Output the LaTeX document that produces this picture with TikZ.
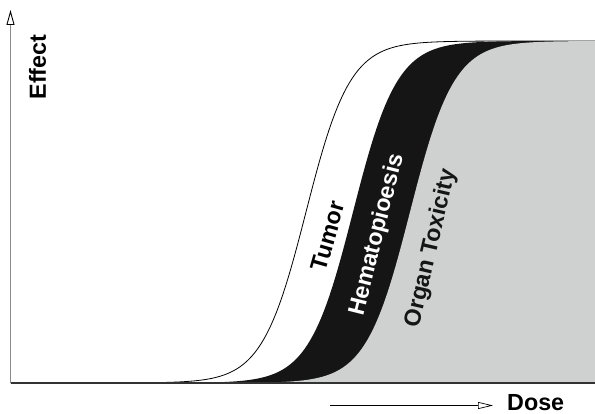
\documentclass[tikz,border=0pt]{standalone}
\usepackage{fontspec}
\setmainfont{Liberation Sans}
\usepackage{xcolor}
\definecolor{OrganGrey}{HTML}{CFD1D0}
\definecolor{HemaBlack}{HTML}{151515}
\definecolor{AxisGrey}{HTML}{8A8A8A}
\definecolor{AxisDark}{HTML}{333333}
\usepackage{tikz}
\usetikzlibrary{
  calc,
  positioning,
  arrows.meta
}

\begin{document}
\begin{tikzpicture}[
  x=1pt, y=1pt,
  declare function = {dr(\x,\c) = 30 + 342/(1 + exp(-(\x-\c)/22));},
  label/.style     = {font=\fontsize{23.3}{28}\selectfont\bfseries, inner sep=0pt},
  tumorline/.style = {draw=black, line width=0.8pt},
  hemafill/.style  = {fill=HemaBlack},
  organfill/.style = {fill=OrganGrey},
  yaxis/.style     = {-{Triangle[open, length=15pt, width=8pt, color=black]},
                      draw=AxisGrey, line width=0.9pt},
  xaxis/.style     = {draw=AxisDark, line width=1.6pt},
  dosearrow/.style = {-{Triangle[open, length=15pt, width=7pt]}, draw=black,
                      line width=0.7pt}
]
  \useasboundingbox (0,0) rectangle (595,413);

  % Axes end points
  \coordinate (origin) at (10.5,30);
  \coordinate (ytip)   at (10.5,403);
  \coordinate (xend)   at (595,30);

  % Tumor response
  \draw[tumorline] (origin) -- (108,30)
    -- plot[domain=108:595, samples=160] (\x, {dr(\x,306)});

  % Hematopoiesis band
  \fill[hemafill] (155,30)
    -- plot[domain=155:595, samples=160] (\x, {dr(\x,353)})
    -- (xend) -- cycle;

  % Organ toxicity area
  \fill[organfill] (212,30)
    -- plot[domain=212:595, samples=160] (\x, {dr(\x,410)})
    -- (xend) -- cycle;

  % Curve labels
  \node[label, rotate=74]             (tumor) at (328,177)   {Tumor};
  \node[label, rotate=76, text=white] (hema)  at (377.5,178) {Hematopioesis};
  \node[label, rotate=77, text=HemaBlack] (organ) at (431,164.5) {Organ Toxicity};

  % Axes
  \draw[yaxis] (origin) -- (ytip);
  \draw[xaxis] (origin) -- (xend);

  % Axis titles
  \node[label, rotate=90] (effect) at (37.5,346) {Effect};
  \node[label, anchor=base west] (dose) at (507,2.5) {Dose};
  \coordinate (dstart) at (330,7.5);
  \coordinate (dend)   at (493,7.5);
  \draw[dosearrow] (dstart) -- (dend);

\end{tikzpicture}
\end{document}
